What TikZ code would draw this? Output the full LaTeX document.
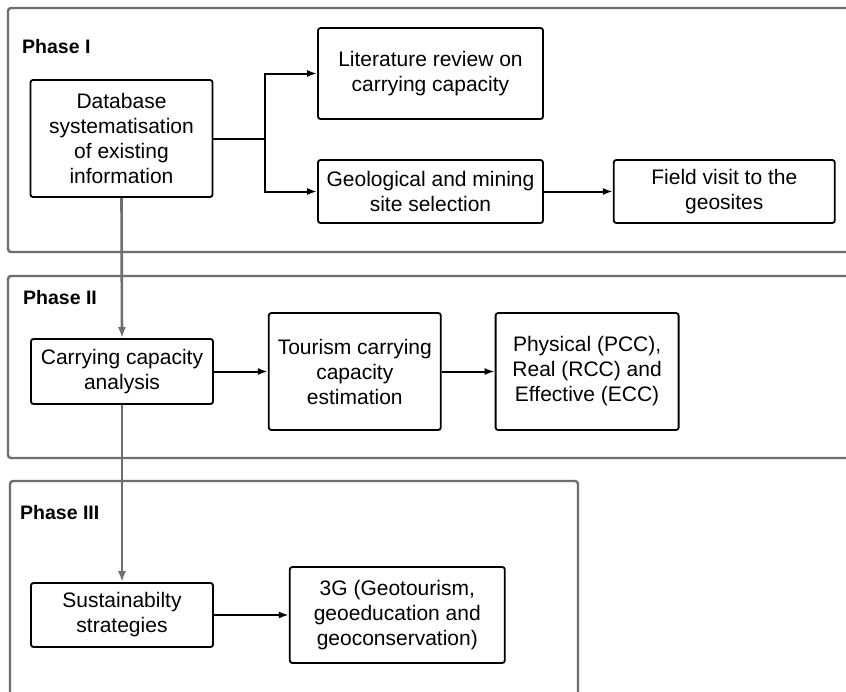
\documentclass[tikz,border=0pt]{standalone}
\usepackage{fontspec}
\setmainfont{Liberation Sans}
\usetikzlibrary{positioning}
\usetikzlibrary{arrows.meta}
\definecolor{panelgray}{HTML}{6E6E6E}

\tikzset{
  phase/.style={draw=panelgray, line width=2.4pt, rounded corners=3pt},
  phaselabel/.style={anchor=west, inner sep=0, font=\bfseries\fontsize{19.5}{23}\selectfont},
  box/.style={draw, line width=1.8pt, rounded corners=2.5pt, align=center, inner sep=0,
    font=\fontsize{21}{25}\selectfont},
  link/.style={-{Latex[length=10pt,width=7pt]}, line width=2pt},
  flow/.style={-{Latex[length=11pt,width=8pt]}, line width=2.6pt, draw=panelgray, fill=panelgray}
}

\begin{document}
\begin{tikzpicture}[x=1pt, y=-1pt]
\useasboundingbox (0,0) rectangle (846,691);
\fill[white] (0,0) rectangle (846,691);
\draw[phase] (8,8) rectangle (870,252);
\draw[phase] (8,276) rectangle (870,458);
\draw[phase] (10,481) rectangle (578,710);
\node[phaselabel] (p1) at (22,47) {Phase I};
\node[phaselabel] (p2) at (23,298) {Phase II};
\node[phaselabel] (p3) at (20,513) {Phase III};

\node[box, minimum width=182pt, minimum height=117pt] (db) at (121.5,138.5)
  {Database\\systematisation\\of existing\\information};
\node[box, minimum width=225pt, minimum height=91pt] (lit) at (430.5,73.5)
  {Literature review on\\carrying capacity};
\node[box, minimum width=225pt, minimum height=63pt] (geo) at (430.5,191.5)
  {Geological and mining\\site selection};
\node[box, minimum width=221pt, minimum height=63pt, right=69pt of geo] (field)
  {Field visit to the\\geosites};

\node[box, minimum width=182pt, minimum height=65pt] (carry) at (122,371.5)
  {Carrying capacity\\analysis};
\node[box, minimum width=172pt, minimum height=117pt, right=54pt of carry] (tour)
  {Tourism carrying\\capacity\\estimation};
\node[box, minimum width=183pt, minimum height=117pt, right=53pt of tour] (phys)
  {Physical (PCC),\\Real (RCC) and\\Effective (ECC)};

\node[box, minimum width=182pt, minimum height=64pt] (sust) at (122,615)
  {Sustainabilty\\strategies};
\node[box, minimum width=215pt, minimum height=96pt, right=75pt of sust] (g3)
  {3G (Geotourism,\\geoeducation and\\geoconservation)};

\draw[link] (db.east) -- ++(52,0) coordinate (split) |- (lit.west);
\draw[link] (split) |- (geo.west);
\draw[link] (geo) -- (field);
\draw[link] (carry) -- (tour);
\draw[link] (tour) -- (phys);
\draw[link] (sust) -- (g3);
\draw[flow] (db.south) -- (carry.north);
\draw[flow] (carry.south) -- (sust.north);
\end{tikzpicture}
\end{document}
